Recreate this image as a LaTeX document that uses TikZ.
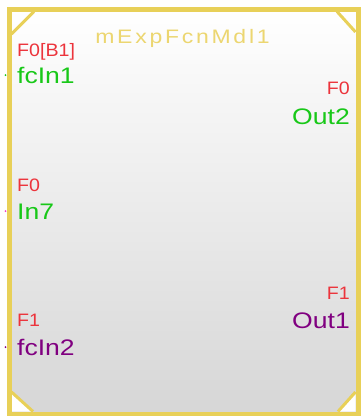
\documentclass[tikz,border=0pt]{standalone}
\usepackage{fontspec}
\setmainfont{Liberation Sans}
\newfontfamily\titlefont[FakeStretch=1.18, LetterSpace=14]{Liberation Sans}
\newfontfamily\namefont[FakeStretch=1.18]{Liberation Sans}
\newfontfamily\tagfont[FakeStretch=1.09]{Liberation Sans}
\definecolor{mdlyellow}{RGB}{232,208,88}
\definecolor{titleyellow}{RGB}{236,214,112}
\definecolor{mdlgray}{RGB}{214,214,214}
\definecolor{tagred}{RGB}{236,52,60}
\definecolor{portgreen}{RGB}{24,200,24}
\definecolor{portpurple}{RGB}{128,0,128}
\definecolor{dotpink}{RGB}{240,60,200}
\tikzset{
	mdlblock/.style={draw=mdlyellow, line width=5pt, top color=white, bottom color=mdlgray,
		minimum width=349pt, minimum height=405pt, inner sep=0pt, outer sep=0pt},
	corner/.style={draw=mdlyellow, line width=3pt},
	tag/.style={inner sep=0pt, text=tagred, font=\tagfont\fontsize{18}{18}\selectfont},
	portname/.style={inner sep=0pt, font=\namefont\fontsize{22.5}{22.5}\selectfont},
}
\begin{document}
\begin{tikzpicture}[x=1pt, y=-1pt]
		\useasboundingbox (0, 0) rectangle (361, 416);
		\node[mdlblock] (mdl) at (183.5, 211.5) {};
		% corners
		\fill[white] (11.5, 392) -- (11.5, 411.5) -- (33, 411.5) -- cycle;
		\fill[white] (355.5, 392) -- (355.5, 411.5) -- (338, 411.5) -- cycle;
		\draw[corner] (11.5, 34) -- (34, 11.5);
		\draw[corner] (337, 11.5) -- (355.5, 32);
		\draw[corner] (11.5, 392) -- (33, 411.5);
		\draw[corner] (355.5, 392) -- (338, 411.5);
		\draw[mdlyellow, line width=5pt] (mdl.north west) rectangle (mdl.south east);
		% title
		\node[inner sep=0pt, anchor=base, text=titleyellow, font=\titlefont\fontsize{19.5}{19.5}\selectfont]
			(title) at (182.5, 43) {mExpFcnMdl1};
		% inputs
		\node[tag, anchor=base west] (tagA) at (17, 56.5) {F0[B1]};
		\node[portname, anchor=base west, text=portgreen] (fcin1) at (17, 83) {fcIn1};
		\node[tag, anchor=base west] (tagB) at (17, 191.5) {F0};
		\node[portname, anchor=base west, text=portgreen] (in7) at (17, 219) {In7};
		\node[tag, anchor=base west] (tagC) at (17, 326.5) {F1};
		\node[portname, anchor=base west, text=portpurple] (fcin2) at (17, 355) {fcIn2};
		% outputs
		\node[tag, anchor=base east] (tagD) at (350, 94.5) {F0};
		\node[portname, anchor=base east, text=portgreen] (out2) at (350, 124) {Out2};
		\node[tag, anchor=base east] (tagE) at (350, 299.5) {F1};
		\node[portname, anchor=base east, text=portpurple] (out1) at (350, 328) {Out1};
		% port dots
		\fill[portgreen] (5.5, 75) circle (1pt);
		\fill[dotpink] (5.5, 211) circle (1pt);
		\fill[portpurple] (5.5, 347) circle (1pt);
	\end{tikzpicture}
\end{document}
